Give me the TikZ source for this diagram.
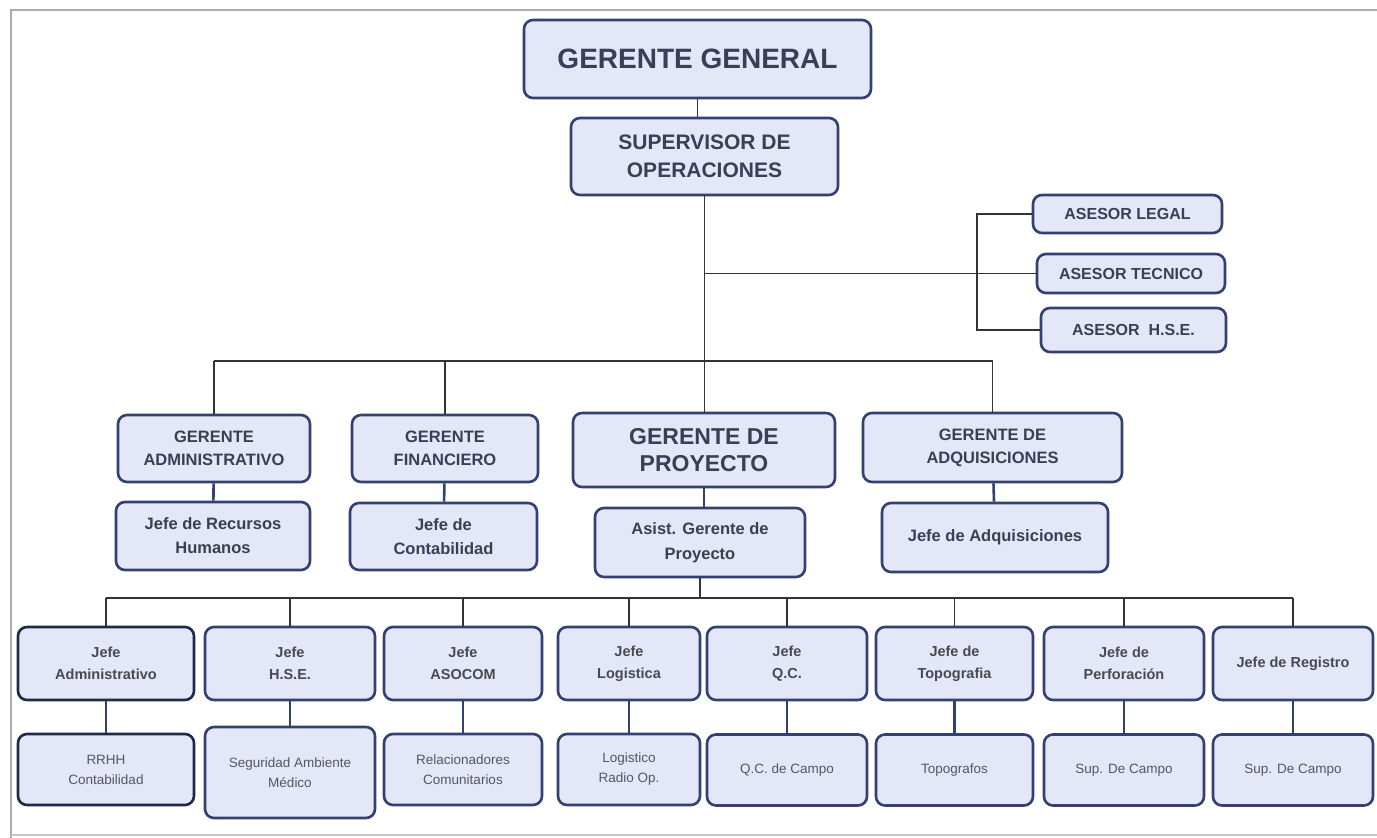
\documentclass[tikz,border=0pt]{standalone}
\usepackage{fontspec}
\setmainfont{Liberation Sans}
\definecolor{relleno}{HTML}{E3E7F8}
\definecolor{borde}{HTML}{34406F}
\definecolor{bordeosc}{HTML}{1F2948}
\definecolor{texto}{HTML}{3A3E57}
\definecolor{textogris}{HTML}{55575F}
\newcommand{\fs}[2]{\fontsize{#1}{#2}\selectfont}
\tikzset{
  caja/.style={draw=borde, fill=relleno, line width=2.6pt, rounded corners=9pt,
    align=center, text=texto, inner sep=1pt},
  jefe/.style={caja, font=\bfseries\fs{14.5}{22}, text=textogris!85!black},
  sub/.style={caja, font=\fs{13.5}{20}, text=textogris},
  linea/.style={black!80, line width=1.1pt},
  enlace/.style={borde, line width=2.6pt}
}
\begin{document}
\begin{tikzpicture}[x=1pt,y=-1pt]
  \useasboundingbox (0,0) rectangle (1377,838);
  % marco
  \draw[gray!65, line width=2.5pt] (1377,10) -- (11,10) -- (11,838);
  \draw[gray!45, line width=1.5pt] (11,835) -- (1377,835);
  % direccion
  \node[caja, minimum width=347, minimum height=78, font=\bfseries\fs{28}{32}] (gg) at (697.5,59) {GERENTE GENERAL};
  \node[caja, minimum width=267, minimum height=77, font=\bfseries\fs{21}{28}] (sup) at (704.5,156.5) {SUPERVISOR DE\\OPERACIONES};
  % asesores
  \node[caja, minimum width=189, minimum height=38, font=\bfseries\fs{16}{20}] (legal) at (1127.5,214) {ASESOR LEGAL};
  \node[caja, minimum width=188, minimum height=39, font=\bfseries\fs{16}{20}] (tec) at (1131,273.5) {ASESOR TECNICO};
  \node[caja, minimum width=185, minimum height=44, font=\bfseries\fs{16}{20}] (ahse) at (1133.5,330) {ASESOR\ \ H.S.E.};
  \coordinate (brk) at (977,273.5);
  % gerencias
  \node[caja, minimum width=192, minimum height=67, font=\bfseries\fs{16.5}{23}] (adm) at (214,448.5) {GERENTE\\ADMINISTRATIVO};
  \node[caja, minimum width=186, minimum height=67, font=\bfseries\fs{16.5}{23}] (fin) at (445,448.5) {GERENTE\\FINANCIERO};
  \node[caja, minimum width=262, minimum height=74, font=\bfseries\fs{23}{27}] (proy) at (704,450) {GERENTE DE\\PROYECTO};
  \node[caja, minimum width=259, minimum height=69, font=\bfseries\fs{16.5}{23}] (adq) at (992.5,447.5) {GERENTE DE\\ADQUISICIONES};
  \node[caja, minimum width=194, minimum height=68, font=\bfseries\fs{16.5}{24}] (rh) at (213,536) {Jefe de Recursos\\Humanos};
  \node[caja, minimum width=187, minimum height=67, font=\bfseries\fs{16.5}{24}] (cont) at (443.5,536.5) {Jefe de\\Contabilidad};
  \node[caja, minimum width=210, minimum height=69, font=\bfseries\fs{16.5}{25}] (asist) at (700,542.5) {Asist. Gerente de\\Proyecto};
  \node[caja, minimum width=226, minimum height=69, font=\bfseries\fs{16.5}{23}] (jadq) at (995,537.5) {Jefe de Adquisiciones};
  \coordinate (barra) at (0,361);
  \coordinate (barrab) at (0,598);
  % jefaturas de campo
  \foreach \n/\cx/\w/\bc/\txt in {a/106/176/bordeosc/{Jefe\\Administrativo},
      b/290/170/borde/{Jefe\\H.S.E.}, c/463/158/borde/{Jefe\\ASOCOM},
      d/629/142/borde/{Jefe\\Logistica}, e/787/160/borde/{Jefe\\Q.C.},
      f/954.5/157/borde/{Jefe de\\Topografia}, g/1124/160/borde/{Jefe de\\Perforación},
      h/1293/160/borde/{Jefe de Registro}}
    \node[jefe, draw=\bc, minimum width=\w, minimum height=73] (j\n) at (\cx,663.5) {\txt};
  \foreach \n/\cx/\cy/\w/\h/\bc/\txt in {a/106/769.5/176/71/bordeosc/{RRHH\\Contabilidad},
      b/290/772.5/170/91/borde/{Seguridad Ambiente\\Médico},
      c/463/769.5/158/71/borde/{Relacionadores\\Comunitarios},
      d/629/769.5/142/71/borde/{Logistico\\Radio Op.},
      e/787/770/160/71/borde/{Q.C. de Campo}, f/954.5/770/157/71/borde/{Topografos},
      g/1124/770/160/71/borde/{Sup. De Campo}, h/1293/770/160/71/borde/{Sup. De Campo}}
    \node[sub, draw=\bc, minimum width=\w, minimum height=\h] (s\n) at (\cx,\cy) {\txt};
  % lineas
  \draw[linea] (gg.south) -- (gg.south |- sup.north);
  \draw[linea] (sup.south) -- (sup.south |- proy.north);
  \draw[linea] (sup.south |- tec.west) -- (tec.west);
  \draw[linea] (legal.west) -- (legal.west -| brk) -- (ahse.west -| brk) -- (ahse.west);
  \draw[linea] (adm.north |- barra) -- (adq.north |- barra);
  \foreach \g in {adm,fin,adq}
    \draw[linea] (\g.north |- barra) -- (\g.north);
  \draw[enlace] (adm) -- (rh);
  \draw[enlace] (fin) -- (cont);
  \draw[enlace] (proy.south) -- (proy.south |- asist.north);
  \draw[enlace] (adq) -- (jadq);
  \draw[linea] (asist.south) -- (asist.south |- barrab);
  \draw[linea] (ja.north |- barrab) -- (jh.north |- barrab);
  \foreach \n in {a,b,c,d,e,f,g,h} {
    \draw[linea] (j\n.north |- barrab) -- (j\n.north);
    \draw[enlace] (j\n) -- (s\n);
  }
\end{tikzpicture}
\end{document}
